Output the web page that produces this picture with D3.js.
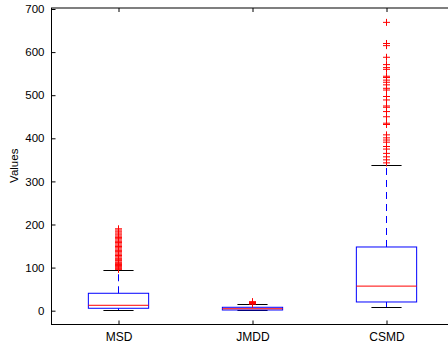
<!DOCTYPE html>
<html><head><meta charset="utf-8">
<script src="https://cdn.jsdelivr.net/npm/d3@7/dist/d3.min.js"></script>
<style>html,body{margin:0;padding:0;background:#fff;}svg{display:block;}</style>
</head><body>
<svg id="c" width="448" height="345"></svg>
<script>
const categories = ["MSD", "JMDD", "CSMD"];
const q1 = [5.6, 1.6, 20.2];
const medians = [12.5, 4.5, 57];
const q3 = [40.4, 7.9, 147.8];
const whiskerLow = [1.6, 0.6, 7.9];
const whiskerHigh = [94.4, 14.8, 338.7];
const outliersMSD = [190, 187, 183, 180, 176, 173, 170, 167, 164, 161, 158, 155, 152, 149, 146, 143, 140, 137, 134, 131, 128, 125, 122, 120, 118, 116, 113, 111, 109, 107, 105, 103, 101, 99, 97, 96];
const outliersJMDD = [21, 19, 18, 17, 16, 15.5];
const outliersCSMD = [669, 620, 615, 588, 571, 564, 560, 544, 541, 535, 530, 524, 516, 512, 497, 489, 475, 472, 462, 450, 435, 432, 408, 401, 396, 391, 381, 375, 365, 357, 350, 343];
const outliers = [outliersMSD, outliersJMDD, outliersCSMD];
const yTicks = [0, 100, 200, 300, 400, 500, 600, 700];

(function () {
const svg = d3.select("#c");
const mLeft = 51, mRight = 453, mTop = 7.5, mBottom = 324;
const x = d3.scaleLinear().domain([0.5, 3.5]).range([mLeft, mRight]);
const y = d3.scaleLinear().domain([-30.9, 703.5]).range([mBottom, mTop]);
const boxW = x(1.45) - x(1);
const capW = boxW / 2;
const font = "Liberation Sans, Arial, sans-serif";

const g = svg.append("g");
categories.forEach((c, i) => {
  const cx = Math.round(x(i + 1)) + 0.5;
  g.append("line").attr("x1", cx).attr("x2", cx).attr("y1", y(q3[i])).attr("y2", y(whiskerHigh[i]))
    .attr("stroke", "#0000ff").attr("stroke-dasharray", "7,5");
  g.append("line").attr("x1", cx).attr("x2", cx).attr("y1", y(q1[i])).attr("y2", y(whiskerLow[i]))
    .attr("stroke", "#0000ff").attr("stroke-dasharray", "7,5");
  [whiskerHigh[i], whiskerLow[i]].forEach(v => {
    g.append("line").attr("x1", cx - capW / 2).attr("x2", cx + capW / 2)
      .attr("y1", Math.round(y(v)) + 0.5).attr("y2", Math.round(y(v)) + 0.5).attr("stroke", "#000");
  });
  g.append("rect").attr("x", cx - boxW / 2).attr("y", y(q3[i]))
    .attr("width", boxW).attr("height", y(q1[i]) - y(q3[i]))
    .attr("fill", "none").attr("stroke", "#0000ff");
  g.append("line").attr("x1", cx - boxW / 2).attr("x2", cx + boxW / 2)
    .attr("y1", y(medians[i])).attr("y2", y(medians[i])).attr("stroke", "#ff0000");
  const s = 3.5;
  outliers[i].forEach(v => {
    const yy = y(v);
    g.append("path").attr("d", `M${cx - s},${yy}H${cx + s}M${cx},${yy - s}V${yy + s}`)
      .attr("stroke", "#ff0000").attr("fill", "none");
  });
});

svg.append("rect").attr("x", mLeft + 0.5).attr("y", mTop + 0.5).attr("width", mRight - mLeft).attr("height", mBottom - mTop)
  .attr("fill", "none").attr("stroke", "#000");

const yAxis = d3.axisLeft(y).tickValues(yTicks).tickSize(-4).tickPadding(7);
const ya = svg.append("g").attr("transform", `translate(${mLeft + 0.5},0)`).call(yAxis);
ya.select(".domain").remove();
ya.selectAll("text").attr("font-family", font).attr("font-size", 11.5).attr("fill", "#000");
ya.selectAll("line").attr("stroke", "#000");

const xAxis = d3.axisBottom(x).tickValues([1, 2, 3]).tickFormat((d, i) => categories[i]).tickSize(-4).tickPadding(8);
const xa = svg.append("g").attr("transform", `translate(0.5,${mBottom + 0.5})`).call(xAxis);
xa.select(".domain").remove();
xa.selectAll("text").attr("font-family", font).attr("font-size", 12).attr("fill", "#000");
xa.selectAll("line").attr("stroke", "#000");
const xt = svg.append("g").attr("transform", `translate(0.5,${mTop + 0.5})`)
  .call(d3.axisTop(x).tickValues([1, 2, 3]).tickSize(-4).tickFormat(""));
xt.select(".domain").remove();
xt.selectAll("line").attr("stroke", "#000");

svg.append("text").attr("transform", `translate(18,${(mTop + mBottom) / 2}) rotate(-90)`)
  .attr("text-anchor", "middle").attr("font-family", font).attr("font-size", 11.5).text("Values");
})();
</script>
</body></html>
